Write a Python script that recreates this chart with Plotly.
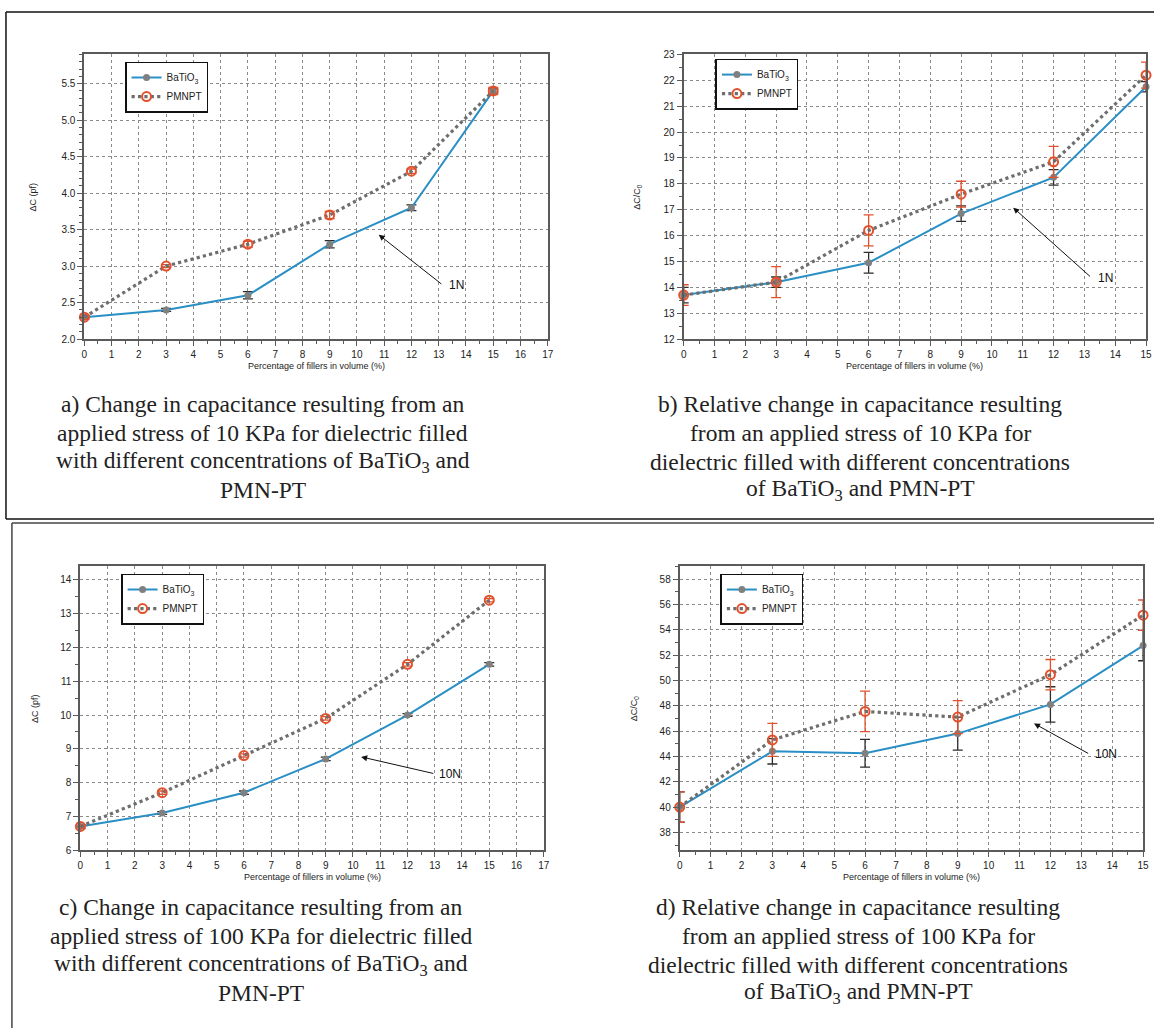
import plotly.graph_objects as go

# ---------------- data ----------------
x_vals = [0, 3, 6, 9, 12, 15]

# a) change in capacitance, 10 KPa (pf)
a_bt = [2.3, 2.4, 2.6, 3.3, 3.8, 5.4]
a_bt_err = [0.02, 0.02, 0.05, 0.05, 0.04, 0.03]
a_pm = [2.3, 3.0, 3.3, 3.7, 4.3, 5.4]
a_pm_err = [0.03, 0.02, 0.04, 0.05, 0.03, 0.05]

# b) relative change, 10 KPa
b_bt = [13.7, 14.2, 14.95, 16.85, 18.25, 21.75]
b_bt_err = [0.3, 0.2, 0.4, 0.3, 0.3, 0.2]
b_pm = [13.7, 14.2, 16.2, 17.6, 18.85, 22.2]
b_pm_err = [0.4, 0.6, 0.6, 0.5, 0.6, 0.5]

# c) change in capacitance, 100 KPa (pf)
c_bt = [6.7, 7.1, 7.7, 8.7, 10.0, 11.5]
c_bt_err = [0.05, 0.04, 0.05, 0.05, 0.04, 0.05]
c_pm = [6.7, 7.7, 8.8, 9.9, 11.5, 13.4]
c_pm_err = [0.05, 0.05, 0.05, 0.05, 0.05, 0.05]

# d) relative change, 100 KPa
d_bt = [40.0, 44.4, 44.25, 45.8, 48.1, 52.75]
d_bt_err = [1.2, 1.0, 1.1, 1.3, 1.4, 1.2]
d_pm = [40.0, 45.3, 47.55, 47.1, 50.45, 55.15]
d_pm_err = [1.2, 1.3, 1.6, 1.3, 1.2, 1.2]

series_names = ["BaTiO<sub>3</sub>", "PMNPT"]
x_title = "Percentage of fillers in volume (%)"
y_titles = ["ΔC (pf)", "ΔC/C<sub>0</sub>", "ΔC (pf)", "ΔC/C<sub>0</sub>"]
captions = [
    ["a) Change in capacitance resulting from an",
     "applied stress of 10 KPa for dielectric filled",
     "with different concentrations of BaTiO<sub>3</sub> and",
     "PMN-PT"],
    ["b) Relative change in capacitance resulting",
     "from an applied stress of 10 KPa for",
     "dielectric filled with different concentrations",
     "of BaTiO<sub>3</sub> and PMN-PT"],
    ["c) Change in capacitance resulting from an",
     "applied stress of 100 KPa for dielectric filled",
     "with different concentrations of BaTiO<sub>3</sub> and",
     "PMN-PT"],
    ["d) Relative change in capacitance resulting",
     "from an applied stress of 100 KPa for",
     "dielectric filled with different concentrations",
     "of BaTiO<sub>3</sub> and PMN-PT"],
]
force_labels = ["1N", "1N", "10N", "10N"]

# ---------------- layout geometry (pixels) ----------------
W, H = 1160, 1034
def px(x):
    return x / W
def py(y):
    return 1 - y / H

panels = [
    dict(x0=82, x1=549, y0=49, y1=337, xr=[0, 17], yr=[2.0, 5.9], ydt=0.5, ymin=0.1, yfmt=".1f",
         bt=a_bt, bte=a_bt_err, pm=a_pm, pme=a_pm_err,
         arrow=(10.8, 3.43, 13.15, 2.74), lab=(13.65, 2.74),
         leg=(123, 82), ytx=30, cap=(262, 403)),
    dict(x0=686, x1=1152, y0=49, y1=337, xr=[0, 15], yr=[12, 23], ydt=1, ymin=0.5, yfmt="",
         bt=b_bt, bte=b_bt_err, pm=b_pm, pme=b_pm_err,
         arrow=(10.69, 17.08, 13.23, 14.37), lab=(13.7, 14.37),
         leg=(718, 79), ytx=640, cap=(864, 403)),
    dict(x0=78, x1=545, y0=567, y1=854, xr=[0, 17], yr=[6, 14.4], ydt=1, ymin=0.5, yfmt="",
         bt=c_bt, bte=c_bt_err, pm=c_pm, pme=c_pm_err,
         arrow=(10.3, 8.76, 13.0, 8.26), lab=(13.55, 8.26),
         leg=(119, 600), ytx=33, cap=(260, 912)),
    dict(x0=682, x1=1149, y0=567, y1=854, xr=[0, 15], yr=[36.6, 59], ydt=2, ymin=1, yfmt="",
         bt=d_bt, bte=d_bt_err, pm=d_pm, pme=d_pm_err,
         arrow=(11.47, 46.6, 13.27, 44.17), lab=(13.8, 44.17),
         leg=(723, 600), ytx=636, cap=(862, 912)),
]
CAP_SPACING = 29

BLUE = "#2a8fc4"
GRAY = "#6e6e6e"
RED = "#e2502c"
FRAME = "#5a5a5a"

fig = go.Figure()
annotations = []
layout_axes = {}

for i, p in enumerate(panels):
    n = i + 1
    xa = "x" if n == 1 else f"x{n}"
    ya = "y" if n == 1 else f"y{n}"
    leg = "legend" if n == 1 else f"legend{n}"

    fig.add_trace(go.Scatter(
        x=x_vals, y=p["bt"], name=series_names[0], mode="lines+markers",
        line=dict(color=BLUE, width=2),
        marker=dict(color="#808080", size=7, symbol="circle"),
        error_y=dict(type="data", array=p["bte"], color="#2b2b2b", thickness=1.3, width=5),
        xaxis=xa, yaxis=ya, legend=leg, showlegend=True, cliponaxis=False))
    fig.add_trace(go.Scatter(
        x=x_vals, y=p["pm"], name=series_names[1], mode="lines+markers",
        line=dict(color=GRAY, width=3.2, dash="dot"),
        marker=dict(color=RED, size=9, symbol="circle-open", line=dict(width=2, color=RED)),
        error_y=dict(type="data", array=p["pme"], color=RED, thickness=1.3, width=5),
        xaxis=xa, yaxis=ya, legend=leg, showlegend=True, cliponaxis=False))

    xkey = "xaxis" if n == 1 else f"xaxis{n}"
    ykey = "yaxis" if n == 1 else f"yaxis{n}"
    layout_axes[xkey] = dict(
        domain=[px(p["x0"]), px(p["x1"])], anchor=ya, range=p["xr"],
        tick0=0, dtick=1, ticks="outside", ticklen=5, tickwidth=1.2, tickcolor=FRAME,
        minor=dict(dtick=0.5, ticks="outside", ticklen=3, tickcolor=FRAME, showgrid=False),
        showline=True, linecolor=FRAME, linewidth=2, mirror=True,
        showgrid=True, gridcolor="#8a8a8a", griddash="dot", gridwidth=1,
        zeroline=False, tickfont=dict(size=10, color="#222", family="Liberation Sans"))
    layout_axes[ykey] = dict(
        domain=[py(p["y1"]), py(p["y0"])], anchor=xa, range=p["yr"],
        tick0=0, dtick=p["ydt"], tickformat=p["yfmt"],
        ticks="outside", ticklen=5, tickwidth=1.2, tickcolor=FRAME,
        minor=dict(dtick=p["ymin"], ticks="outside", ticklen=3, tickcolor=FRAME, showgrid=False),
        showline=True, linecolor=FRAME, linewidth=2, mirror=True,
        showgrid=True, gridcolor="#8a8a8a", griddash="dot", gridwidth=1,
        zeroline=False, tickfont=dict(size=10, color="#222", family="Liberation Sans"))

    layout_axes[leg] = dict(
        x=px(p["leg"][0]), y=py(p["leg"][1]), xanchor="left", yanchor="middle",
        bgcolor="white", bordercolor="#111", borderwidth=1.5,
        font=dict(size=10, color="#222", family="Liberation Sans"),
        tracegroupgap=0, itemwidth=30)

    # arrow
    hx, hy, tx, ty = p["arrow"]
    annotations.append(dict(
        x=hx, y=hy, ax=tx, ay=ty, xref=xa, yref=ya, axref=xa, ayref=ya,
        text="", showarrow=True, arrowhead=2, arrowsize=1.2, arrowwidth=1, arrowcolor="#111"))
    annotations.append(dict(
        x=p["lab"][0], y=p["lab"][1], xref=xa, yref=ya, text=force_labels[i],
        xanchor="center", yanchor="middle",
        showarrow=False, font=dict(size=12, color="#111", family="Liberation Sans")))

    # axis titles
    annotations.append(dict(
        x=(px(p["x0"]) + px(p["x1"])) / 2, y=py(p["y1"] + 27), xref="paper", yref="paper",
        xanchor="center", yanchor="middle",
        text=x_title, showarrow=False, font=dict(size=9, color="#222", family="Liberation Sans")))
    annotations.append(dict(
        x=px(p["ytx"]), y=py((p["y0"] + p["y1"]) / 2), xref="paper", yref="paper",
        xanchor="center", yanchor="middle",
        text=y_titles[i], textangle=-90, showarrow=False,
        font=dict(size=9, color="#222", family="Liberation Sans")))

    # caption, one annotation per line
    for k, line in enumerate(captions[i]):
        annotations.append(dict(
            x=px(p["cap"][0]), y=py(p["cap"][1] + k * CAP_SPACING), xref="paper", yref="paper",
            xanchor="center", yanchor="middle",
            text=line, showarrow=False, align="center",
            font=dict(size=23.5, color="#222", family="Liberation Serif")))

shapes = []
def hline(x0, x1, y, color="#111", w=1.5):
    shapes.append(dict(type="line", xref="paper", yref="paper",
                       x0=px(x0), x1=px(x1), y0=py(y), y1=py(y), line=dict(color=color, width=w)))
def vline(x, y0, y1, color="#111", w=1.5):
    shapes.append(dict(type="line", xref="paper", yref="paper",
                       x0=px(x), x1=px(x), y0=py(y0), y1=py(y1), line=dict(color=color, width=w)))

hline(3, 1160, 6)
vline(3, 6, 519)
hline(3, 1160, 519)
hline(9, 1160, 523, color="#444")
vline(9, 523, 1034, color="#444")

fig.update_layout(
    width=W, height=H, margin=dict(l=0, r=0, t=0, b=0),
    paper_bgcolor="white", plot_bgcolor="white",
    annotations=annotations, shapes=shapes,
    **layout_axes)

fig.write_html("out.html")
